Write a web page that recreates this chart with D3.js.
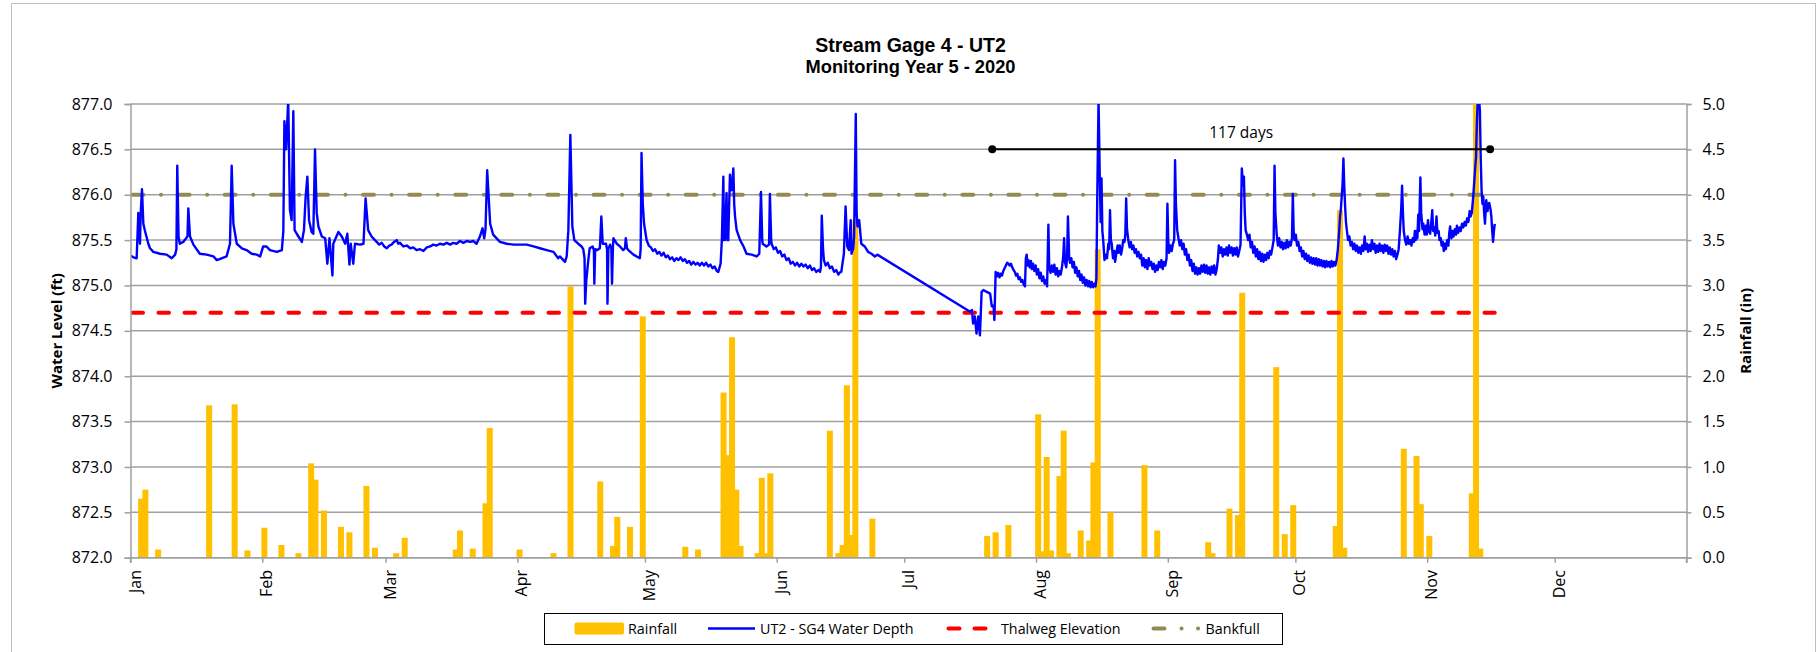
<!DOCTYPE html>
<html>
<head>
<meta charset="utf-8">
<script src="https://cdn.jsdelivr.net/npm/d3@7"></script>
<style>
  html, body { margin: 0; padding: 0; background: #ffffff; }
  svg { display: block; font-family: "Open Sans", "Liberation Sans", sans-serif; }
</style>
</head>
<body>
<svg id="chart" width="1818" height="652"></svg>
<script>
// ---- chart text ----
const titleText = "Stream Gage 4 - UT2";
const subtitleText = "Monitoring Year 5 - 2020";
const leftTitle = "Water Level (ft)";
const rightTitle = "Rainfall (in)";
const monthLabels = ["Jan","Feb","Mar","Apr","May","Jun","Jul","Aug","Sep","Oct","Nov","Dec"];
const levelTicks = [872.0, 872.5, 873.0, 873.5, 874.0, 874.5, 875.0, 875.5, 876.0, 876.5, 877.0];
const rainTicks = [0.0, 0.5, 1.0, 1.5, 2.0, 2.5, 3.0, 3.5, 4.0, 4.5, 5.0];
const legendLabels = ["Rainfall", "UT2 - SG4 Water Depth", "Thalweg Elevation", "Bankfull"];

// ---- reference elevations (ft) ----
const thalwegElevation = 874.7;
const bankfullElevation = 876.0;

// ---- consecutive-days-above-thalweg marker (days since Jan 1) ----
const spanStartDay = 202.7;
const spanEndDay = 319.8;
const spanLevel = 876.5;
const spanLabel = "117 days";

// ---- daily rainfall (in) ----
const rainDates = [
  "2020-01-03","2020-01-04","2020-01-07","2020-01-19","2020-01-25","2020-01-28",
  "2020-02-01","2020-02-05","2020-02-09","2020-02-12","2020-02-13","2020-02-15",
  "2020-02-19","2020-02-21","2020-02-25","2020-02-27","2020-03-03","2020-03-05",
  "2020-03-17","2020-03-18","2020-03-21","2020-03-24","2020-03-25","2020-04-01",
  "2020-04-09","2020-04-13","2020-04-20","2020-04-23","2020-04-24","2020-04-27",
  "2020-04-30","2020-05-10","2020-05-13","2020-05-19","2020-05-20","2020-05-21",
  "2020-05-22","2020-05-23","2020-05-27","2020-05-28","2020-05-29","2020-05-30",
  "2020-06-13","2020-06-15","2020-06-16","2020-06-17","2020-06-18","2020-06-19",
  "2020-06-23","2020-07-20","2020-07-22","2020-07-25","2020-08-01","2020-08-02",
  "2020-08-03","2020-08-04","2020-08-06","2020-08-07","2020-08-08","2020-08-11",
  "2020-08-13","2020-08-14","2020-08-15","2020-08-18","2020-08-26","2020-08-29",
  "2020-09-10","2020-09-11","2020-09-15","2020-09-17","2020-09-18","2020-09-26",
  "2020-09-28","2020-09-30","2020-10-10","2020-10-11","2020-10-12","2020-10-26",
  "2020-10-29","2020-10-30","2020-11-01","2020-11-11","2020-11-12","2020-11-13"
];
const rainInches = [
  0.65, 0.75, 0.09, 1.68, 1.69, 0.08,
  0.33, 0.14, 0.05, 1.04, 0.86, 0.52,
  0.34, 0.28, 0.79, 0.11, 0.05, 0.22,
  0.09, 0.30, 0.10, 0.60, 1.43, 0.09,
  0.05, 2.99, 0.84, 0.13, 0.45, 0.34,
  2.66, 0.12, 0.09, 1.82, 1.13, 2.43,
  0.75, 0.13, 0.05, 0.88, 0.05, 0.93,
  1.40, 0.05, 0.14, 1.90, 0.25, 3.72,
  0.43, 0.24, 0.28, 0.36, 1.58, 0.07,
  1.11, 0.08, 0.90, 1.40, 0.05, 0.30,
  0.19, 1.05, 3.40, 0.50, 1.02, 0.30,
  0.17, 0.05, 0.54, 0.47, 2.92, 2.10,
  0.26, 0.58, 0.35, 3.83, 0.11, 1.20,
  1.12, 0.59, 0.24, 0.71, 5.60, 0.10
];

// ---- gage water level, [days since Jan 1, elevation ft] ----
const levelJanToJul = [
  [0.04,875.33],[0.67,875.31],[1.45,875.30],[1.84,875.80],[2.23,875.46],[2.39,875.78],[2.70,876.06],[3.02,875.68],[3.41,875.60],[4.19,875.46],
  [4.59,875.41],[5.37,875.37],[6.94,875.35],[8.50,875.34],[9.70,875.30],[10.5,875.34],[10.8,875.40],[11.0,876.32],[11.3,875.54],[11.6,875.46],
  [12.4,875.48],[13.4,875.54],[13.6,875.85],[14.0,875.54],[14.8,875.45],[16.3,875.35],[17.9,875.34],[19.5,875.32],[20.3,875.28],[21.4,875.30],
  [22.6,875.32],[23.4,875.46],[23.8,876.32],[24.2,875.68],[25.0,875.46],[26.2,875.41],[27.3,875.39],[28.5,875.35],[29.7,875.34],[30.5,875.32],
  [31.2,875.43],[32.0,875.43],[32.8,875.39],[34.4,875.37],[35.6,875.39],[35.95,875.60],[36.2,876.81],[36.6,876.50],[37.1,877.05],[37.5,875.83],
  [37.9,875.72],[38.3,876.92],[38.6,875.61],[39.1,875.57],[40.3,875.48],[40.8,875.61],[41.2,875.98],[41.6,876.20],[42.0,875.72],[42.6,875.59],
  [43.0,875.57],[43.4,876.50],[43.8,875.80],[44.2,875.65],[45.0,875.54],[45.8,875.52],[46.3,875.24],[46.8,875.52],[47.5,875.11],[47.7,875.46],
  [48.9,875.59],[49.7,875.54],[50.5,875.46],[51.0,875.57],[51.5,875.23],[51.8,875.46],[52.4,875.24],[52.8,875.46],[54.0,875.45],[54.8,875.46],
  [55.3,875.96],[55.9,875.61],[56.7,875.54],[57.9,875.48],[58.5,875.45],[59.1,875.47],[59.7,875.43],[60.3,875.41],[60.9,875.44],[61.4,875.45],
  [62.0,875.48],[62.6,875.50],[63.0,875.46],[63.4,875.47],[64.2,875.43],[65.0,875.44],[65.8,875.41],[66.5,875.42],[67.3,875.39],[68.1,875.40],
  [68.9,875.38],[69.7,875.42],[70.5,875.43],[71.2,875.45],[72.0,875.44],[72.8,875.46],[73.6,875.45],[74.4,875.47],[75.2,875.45],[75.9,875.47],
  [76.7,875.46],[77.5,875.49],[78.3,875.47],[79.1,875.49],[79.9,875.48],[80.6,875.49],[81.4,875.46],[82.2,875.54],[82.8,875.63],[83.2,875.52],
  [83.5,875.62],[83.9,876.27],[84.6,875.68],[85.3,875.56],[86.9,875.48],[88.5,875.46],[90.1,875.45],[91.6,875.45],[93.2,875.45],[94.8,875.43],
  [96.3,875.41],[97.9,875.39],[99.5,875.37],[100.6,875.30],[101.0,875.32],[102.2,875.26],[102.6,875.32],[102.99,875.61],[103.46,876.66],[103.93,875.65],
  [104.4,875.50],[105.3,875.46],[106.1,875.43],[106.5,875.40],[106.8,875.30],[106.95,874.80],[107.2,875.05],[107.6,875.24],[108.0,875.41],[108.7,875.43],
  [109.0,875.39],[109.1,875.02],[109.3,875.40],[109.8,875.39],[110.4,875.41],[110.75,875.76],[111.07,875.46],[111.85,875.46],[112.1,875.40],[112.2,874.80],
  [112.4,875.40],[112.8,875.45],[113.1,875.41],[113.26,875.02],[113.5,875.45],[113.6,875.52],[114.4,875.46],[115.13,875.43],[115.9,875.39],[116.3,875.41],
  [116.5,875.52],[116.8,875.41],[117.1,875.39],[118.3,875.34],[119.8,875.30],[120.0,875.40],[120.2,876.46],[120.5,875.90],[120.8,875.68],[121.4,875.50],
  [121.9,875.44],[122.4,875.42],[122.9,875.38],[123.4,875.40],[123.9,875.35],[124.4,875.37],[124.9,875.33],[125.4,875.36],[125.9,875.31],[126.4,875.33],
  [126.9,875.29],[127.4,875.31],[127.9,875.27],[128.4,875.30],[128.9,875.28],[129.4,875.31],[129.9,875.27],[130.4,875.29],[130.9,875.25],[131.4,875.27],
  [131.9,875.23],[132.4,875.26],[132.9,875.23],[133.4,875.25],[133.9,875.22],[134.4,875.25],[134.9,875.22],[135.4,875.25],[135.9,875.21],[136.4,875.23],
  [136.9,875.19],[137.4,875.21],[137.9,875.16],[138.27,875.15],[138.8,875.24],[139.1,875.50],[139.45,876.20],[139.6,875.50],[139.8,875.50],[140.2,876.02],
  [140.4,875.50],[140.6,875.50],[141.0,876.22],[141.2,876.05],[141.4,876.05],[141.8,876.29],[142.0,875.90],[142.2,875.76],[142.58,875.61],[143.4,875.50],
  [144.2,875.43],[144.9,875.35],[146.1,875.34],[147.3,875.32],[147.9,875.35],[148.3,876.03],[148.6,875.50],[148.7,875.46],[149.6,875.43],[150.2,875.45],
  [150.4,876.01],[150.7,875.50],[150.8,875.46],[151.3,875.40],[151.8,875.42],[152.3,875.36],[152.8,875.38],[153.3,875.32],[153.8,875.34],[154.3,875.28],
  [154.8,875.30],[155.3,875.24],[155.8,875.26],[156.3,875.22],[156.8,875.25],[157.3,875.21],[157.8,875.24],[158.3,875.21],[158.8,875.23],[159.3,875.19],
  [159.8,875.22],[160.3,875.17],[160.8,875.19],[161.3,875.15],[161.8,875.17],[162.2,875.15],[162.4,875.20],[162.6,875.77],[162.9,875.40],[163.1,875.28],
  [163.5,875.22],[164.0,875.25],[164.5,875.19],[165.0,875.21],[165.5,875.15],[166.0,875.17],[166.5,875.12],[167.0,875.15],[167.2,875.15],[167.8,875.35],
  [168.2,875.87],[168.6,875.43],[169.0,875.39],[169.4,875.72],[169.6,875.35],[170.0,875.41],[170.2,875.54],[170.6,876.89],[170.8,875.80],[171.0,875.65],
  [171.4,875.72],[171.9,875.46],[172.7,875.43],[173.5,875.37],[174.3,875.35],[175.1,875.32],[175.67,875.34],[197.5,874.71],[197.9,874.73],[198.2,874.58],
  [198.6,874.66],[199.0,874.47],[199.4,874.66],[199.8,874.45],[200.2,874.93],[200.6,874.95],[201.4,874.93],[202.2,874.91],[202.6,874.77],[203.0,874.78],
  [203.2,874.62]
];
const levelJulToNov = [
  [203.5,875.15],[203.8,875.10],[204.1,875.14],[204.4,875.09],[204.7,875.13],[205.0,875.11],[205.3,875.16],[205.6,875.19],[205.9,875.22],[206.2,875.25],
  [206.5,875.24],[206.8,875.22],[207.1,875.24],[207.4,875.20],[207.7,875.17],[208.0,875.15],[208.3,875.11],[208.6,875.13],[208.9,875.07],[209.2,875.09],
  [209.5,875.04],[209.8,875.06],[210.1,875.01],[210.4,874.99],[210.6,875.30],[210.8,875.34],[211.0,875.22],[211.2,875.28],[211.5,875.20],[211.8,875.27],
  [212.0,875.18],[212.3,875.24],[212.6,875.16],[212.9,875.22],[213.2,875.12],[213.5,875.18],[213.8,875.08],[214.1,875.14],[214.4,875.05],[214.7,875.10],
  [215.0,875.02],[215.3,875.06],[215.6,874.99],[215.9,875.67],[216.1,875.20],[216.4,875.14],[216.7,875.22],[217.0,875.15],[217.3,875.23],[217.6,875.12],
  [217.9,875.19],[218.2,875.10],[218.5,875.16],[218.8,875.12],[219.1,875.20],[219.4,875.32],[219.6,875.52],[219.8,875.26],[220.1,875.20],[220.3,875.30],
  [220.5,875.76],[220.8,875.30],[221.0,875.25],[221.3,875.30],[221.6,875.20],[221.9,875.26],[222.2,875.14],[222.5,875.20],[222.8,875.10],[223.1,875.16],
  [223.4,875.06],[223.7,875.12],[224.0,875.03],[224.3,875.09],[224.6,875.00],[224.9,875.06],[225.2,874.99],[225.5,875.05],[225.8,874.98],[226.1,875.04],
  [226.4,874.98],[226.7,875.02],[227.0,874.99],[227.2,875.08],[227.4,875.98],[227.7,877.05],[228.0,876.18],[228.2,875.70],[228.4,876.18],[228.6,875.60],
  [228.8,875.50],[229.1,875.28],[229.4,875.34],[229.7,875.30],[230.0,875.46],[230.2,875.40],[230.4,875.83],[230.6,875.50],[230.8,875.46],[231.1,875.30],
  [231.4,875.38],[231.6,875.26],[231.9,875.36],[232.2,875.44],[232.4,875.36],[232.7,875.44],[233.0,875.34],[233.3,875.42],[233.5,875.50],[233.8,875.48],
  [234.0,875.56],[234.2,875.96],[234.4,875.62],[234.7,875.50],[235.0,875.42],[235.3,875.48],[235.6,875.40],[235.9,875.44],[236.2,875.36],[236.5,875.40],
  [236.8,875.32],[237.1,875.37],[237.4,875.30],[237.7,875.34],[238.0,875.22],[238.3,875.30],[238.6,875.20],[238.9,875.28],[239.2,875.18],[239.5,875.30],
  [239.8,875.22],[240.1,875.26],[240.4,875.18],[240.7,875.24],[241.0,875.15],[241.3,875.22],[241.6,875.17],[241.9,875.26],[242.2,875.20],[242.5,875.28],
  [242.8,875.18],[243.1,875.26],[243.4,875.22],[243.7,875.30],[243.9,875.90],[244.1,875.50],[244.3,875.36],[244.6,875.44],[244.9,875.38],[245.2,875.46],
  [245.5,875.50],[245.7,876.38],[245.9,875.90],[246.2,875.61],[246.5,875.52],[246.8,875.44],[247.1,875.50],[247.4,875.40],[247.7,875.46],[248.0,875.34],
  [248.3,875.40],[248.6,875.28],[248.9,875.34],[249.2,875.22],[249.5,875.28],[249.8,875.16],[250.1,875.24],[250.4,875.13],[250.7,875.20],[251.0,875.12],
  [251.3,875.19],[251.6,875.13],[251.9,875.22],[252.2,875.15],[252.5,875.23],[252.8,875.14],[253.1,875.22],[253.4,875.13],[253.7,875.20],[254.0,875.12],
  [254.3,875.21],[254.6,875.14],[254.9,875.22],[255.2,875.12],[255.5,875.18],[255.8,875.30],[256.0,875.44],[256.3,875.36],[256.6,875.42],[256.9,875.32],
  [257.2,875.40],[257.5,875.34],[257.8,875.42],[258.1,875.33],[258.4,875.44],[258.7,875.36],[259.0,875.42],[259.3,875.33],[259.6,875.41],[259.9,875.34],
  [260.2,875.42],[260.5,875.32],[260.8,875.38],[261.1,875.45],[261.4,876.29],[261.7,876.10],[261.9,876.20],[262.1,875.80],[262.3,875.61],[262.6,875.56],
  [262.9,875.50],[263.2,875.56],[263.5,875.42],[263.8,875.48],[264.1,875.36],[264.4,875.43],[264.7,875.32],[265.0,875.40],[265.3,875.29],[265.6,875.37],
  [265.9,875.27],[266.2,875.35],[266.5,875.26],[266.8,875.34],[267.1,875.28],[267.4,875.36],[267.7,875.30],[268.0,875.38],[268.3,875.34],[268.6,875.42],
  [268.9,875.50],[269.1,876.32],[269.3,875.80],[269.6,875.57],[269.9,875.44],[270.2,875.52],[270.5,875.42],[270.8,875.48],[271.1,875.40],[271.4,875.47],
  [271.7,875.41],[272.0,875.50],[272.3,875.42],[272.6,875.48],[272.9,875.44],[273.2,875.52],[273.4,876.01],[273.6,875.60],[273.8,875.50],[274.1,875.56],
  [274.4,875.44],[274.7,875.48],[275.0,875.38],[275.3,875.42],[275.6,875.32],[275.9,875.38],[276.2,875.29],[276.5,875.35],[276.8,875.27],[277.1,875.33],
  [277.4,875.25],[277.7,875.31],[278.0,875.24],[278.3,875.30],[278.6,875.23],[278.9,875.30],[279.2,875.22],[279.5,875.29],[279.8,875.22],[280.1,875.28],
  [280.4,875.21],[280.7,875.27],[281.0,875.20],[281.3,875.27],[281.6,875.21],[281.9,875.26],[282.2,875.20],[282.5,875.27],[282.8,875.21],[283.1,875.26],
  [283.4,875.22],[283.7,875.28],[284.0,875.40],[284.3,875.60],[284.5,875.76],[284.7,875.84],[284.9,875.98],[285.1,876.12],[285.3,876.40],[285.5,876.10],
  [285.7,875.87],[285.9,875.70],[286.1,875.61],[286.4,875.50],[286.7,875.54],[287.0,875.44],[287.3,875.48],[287.6,875.40],[287.9,875.46],[288.2,875.38],
  [288.5,875.44],[288.8,875.36],[289.1,875.42],[289.4,875.35],[289.7,875.44],[290.0,875.38],[290.3,875.54],[290.5,875.40],[290.8,875.46],[291.1,875.37],
  [291.4,875.45],[291.7,875.38],[292.0,875.50],[292.3,875.40],[292.6,875.46],[292.9,875.36],[293.2,875.44],[293.5,875.37],[293.8,875.46],[294.1,875.38],
  [294.4,875.44],[294.7,875.36],[295.0,875.45],[295.3,875.38],[295.6,875.44],[295.9,875.35],[296.2,875.42],[296.5,875.34],[296.8,875.40],[297.1,875.32],
  [297.4,875.38],[297.7,875.29],[298.0,875.34],[298.3,875.40],[298.6,875.61],[298.9,875.85],[299.1,876.10],[299.3,875.80],[299.5,875.60],[299.8,875.50],
  [300.1,875.45],[300.4,875.54],[300.7,875.46],[301.0,875.50],[301.3,875.44],[301.6,875.52],[301.9,875.48],[302.1,875.60],[302.3,875.50],[302.5,875.60],
  [302.7,875.52],[302.9,875.78],[303.1,875.60],[303.4,876.19],[303.6,875.80],[303.9,875.62],[304.1,875.68],[304.4,875.56],[304.7,875.66],[304.9,875.56],
  [305.2,875.72],[305.4,875.60],[305.7,875.57],[305.9,875.66],[306.2,875.83],[306.4,875.60],[306.7,875.64],[306.9,875.55],[307.2,875.76],[307.4,875.58],
  [307.7,875.60],[307.9,875.50],[308.2,875.52],[308.4,875.44],[308.7,875.48],[308.9,875.38],[309.2,875.46],[309.4,875.40],[309.7,875.50],[310.0,875.44],
  [310.2,875.58],[310.4,875.65],[310.7,875.52],[311.0,875.60],[311.2,875.54],[311.5,875.62],[311.8,875.56],[312.0,875.66],[312.3,875.58],[312.6,875.64],
  [312.9,875.60],[313.2,875.68],[313.5,875.64],[313.8,875.70],[314.1,875.66],[314.4,875.74],[314.7,875.70],[315.0,875.82],[315.2,875.76],[315.5,875.80],
  [315.8,875.96],[316.0,876.09],[316.3,876.30],[316.5,876.42],[316.7,876.80],[316.9,877.05],[317.2,877.05],[317.4,876.93],[317.6,876.40],[317.8,876.05],
  [318.0,875.90],[318.2,875.98],[318.4,875.80],[318.6,875.68],[318.8,875.86],[318.9,875.94],[319.2,875.82],[319.4,875.90],[319.6,875.91],[319.9,875.84],
  [320.1,875.76],[320.3,875.60],[320.5,875.48],[320.7,875.60],[320.9,875.68]
];

// ---- colours ----
const rainColor = "#FFC000";
const levelColor = "#0000FF";
const thalwegColor = "#FF0000";
const bankfullColor = "#948A54";
const gridColor = "#A0A0A0";

// ---- layout ----
const W = 1818, H = 652;
const plot = { left: 130.5, right: 1686.5, top: 104, bottom: 557.7 };

const svg = d3.select("#chart");
const DAY = 864e5;
const yearStart = Date.UTC(2020, 0, 1);
const fromDay = d => new Date(yearStart + d * DAY);
const parseDate = d3.utcParse("%Y-%m-%d");

const x = d3.scaleUtc()
  .domain([new Date(Date.UTC(2020, 0, 1)), new Date(Date.UTC(2021, 0, 1))])
  .range([plot.left, plot.right]);
const yLevel = d3.scaleLinear().domain([872, 877]).range([plot.bottom, plot.top]);
const yRain = d3.scaleLinear().domain([0, 5]).range([plot.bottom, plot.top]);

// outer chart frame
svg.append("rect")
  .attr("x", 11.5).attr("y", 3.5)
  .attr("width", 1804).attr("height", 700)
  .attr("fill", "none").attr("stroke", "#BFBFBF").attr("stroke-width", 1);

// titles
const titleFont = "'Liberation Sans', Arial, sans-serif";
svg.append("text").attr("x", 910.5).attr("y", 51.5)
  .attr("text-anchor", "middle").attr("font-weight", "bold").attr("font-size", 19.5)
  .attr("font-family", titleFont)
  .text(titleText);
svg.append("text").attr("x", 910.5).attr("y", 73)
  .attr("text-anchor", "middle").attr("font-weight", "bold").attr("font-size", 18.3)
  .attr("font-family", titleFont)
  .text(subtitleText);

// horizontal gridlines
svg.append("g").selectAll("line").data(levelTicks).join("line")
  .attr("x1", plot.left).attr("x2", plot.right)
  .attr("y1", d => yLevel(d)).attr("y2", d => yLevel(d))
  .attr("stroke", gridColor).attr("stroke-width", 1.5);

// clipping region for the plotted series
svg.append("clipPath").attr("id", "plotClip")
  .append("rect")
  .attr("x", plot.left).attr("y", plot.top)
  .attr("width", plot.right - plot.left).attr("height", plot.bottom - plot.top);

const series = svg.append("g").attr("clip-path", "url(#plotClip)");

// rainfall columns
const rain = rainDates.map((d, i) => ({ date: parseDate(d), value: rainInches[i] }));
const barW = 6;
series.append("g").selectAll("rect").data(rain).join("rect")
  .attr("x", d => x(new Date(d.date.getTime() + DAY / 2)) - barW / 2)
  .attr("width", barW)
  .attr("y", d => yRain(d.value))
  .attr("height", d => yRain(0) - yRain(d.value))
  .attr("fill", rainColor);

// axes
const axisL = d3.axisLeft(yLevel).tickValues(levelTicks).tickFormat(d3.format(".1f")).tickSize(6).tickPadding(12);
const axisR = d3.axisRight(yRain).tickValues(rainTicks).tickFormat(d3.format(".1f")).tickSize(5).tickPadding(11);
const axisB = d3.axisBottom(x).ticks(d3.utcMonth.every(1)).tickSize(5).tickFormat("");

function styleAxis(g) {
  g.select(".domain").attr("stroke", gridColor).attr("stroke-width", 1.5);
  g.selectAll(".tick line").attr("stroke", gridColor).attr("stroke-width", 1.5);
  g.selectAll(".tick text").attr("fill", "#000").attr("font-size", 16)
    .attr("font-family", "'Open Sans', sans-serif");
}
svg.append("g").attr("transform", `translate(${plot.left},0)`).call(axisL).call(styleAxis);
svg.append("g").attr("transform", `translate(${plot.right},0)`).call(axisR).call(styleAxis);
const gB = svg.append("g").attr("transform", `translate(0,${plot.bottom})`).call(axisB).call(styleAxis);
gB.select(".domain").attr("d", `M${plot.left},5V0H${plot.right}V5`);

// month labels, rotated
const monthStarts = d3.utcMonths(new Date(Date.UTC(2020, 0, 1)), new Date(Date.UTC(2021, 0, 1)));
svg.append("g").selectAll("text").data(monthStarts).join("text")
  .attr("transform", d => `translate(${x(d) + 4},570) rotate(-90)`)
  .attr("text-anchor", "end")
  .attr("dominant-baseline", "central")
  .attr("font-size", 16)
  .text(d => monthLabels[d.getUTCMonth()]);

// axis titles
svg.append("text")
  .attr("transform", `translate(56,${(plot.top + plot.bottom) / 2}) rotate(-90)`)
  .attr("text-anchor", "middle").attr("dominant-baseline", "central")
  .attr("font-weight", "bold").attr("font-size", 15)
  .text(leftTitle);
svg.append("text")
  .attr("transform", `translate(1745,${(plot.top + plot.bottom) / 2}) rotate(-90)`)
  .attr("text-anchor", "middle").attr("dominant-baseline", "central")
  .attr("font-weight", "bold").attr("font-size", 15)
  .text(rightTitle);

// thalweg and bankfull reference lines
const level = levelJanToJul.concat(levelJulToNov).map(([d, v]) => ({ t: fromDay(d), v }));
const lineEnd = level[level.length - 1].t;
series.append("line")
  .attr("x1", x(fromDay(0))).attr("x2", x(lineEnd))
  .attr("y1", yLevel(thalwegElevation)).attr("y2", yLevel(thalwegElevation))
  .attr("stroke", thalwegColor).attr("stroke-width", 4)
  .attr("stroke-linecap", "round").attr("stroke-dasharray", "10.5,15.5")
  .attr("stroke-dashoffset", -2);
series.append("line")
  .attr("x1", x(fromDay(0))).attr("x2", x(lineEnd))
  .attr("y1", yLevel(bankfullElevation)).attr("y2", yLevel(bankfullElevation))
  .attr("stroke", bankfullColor).attr("stroke-width", 4)
  .attr("stroke-linecap", "round").attr("stroke-dasharray", "11,17.5,0.1,17.5")
  .attr("stroke-dashoffset", -2);

// water level trace
series.append("path").datum(level)
  .attr("fill", "none").attr("stroke", levelColor).attr("stroke-width", 2.4)
  .attr("stroke-linejoin", "round")
  .attr("d", d3.line().x(d => x(d.t)).y(d => yLevel(d.v)));

// duration marker
const spanY = yLevel(spanLevel);
svg.append("line")
  .attr("x1", x(fromDay(spanStartDay))).attr("x2", x(fromDay(spanEndDay)))
  .attr("y1", spanY).attr("y2", spanY)
  .attr("stroke", "#000").attr("stroke-width", 2);
svg.append("g").selectAll("circle").data([spanStartDay, spanEndDay]).join("circle")
  .attr("cx", d => x(fromDay(d))).attr("cy", spanY).attr("r", 4).attr("fill", "#000");
svg.append("text")
  .attr("x", x(fromDay((spanStartDay + spanEndDay) / 2))).attr("y", spanY - 11)
  .attr("text-anchor", "middle").attr("font-size", 15.5)
  .text(spanLabel);

// legend
const lg = svg.append("g");
lg.append("rect").attr("x", 544.5).attr("y", 613.5).attr("width", 738).attr("height", 31)
  .attr("fill", "#fff").attr("stroke", "#000").attr("stroke-width", 1);
const legY = 628.5;
lg.append("rect").attr("x", 574.5).attr("y", legY - 6).attr("width", 49.5).attr("height", 12)
  .attr("rx", 2).attr("fill", rainColor);
lg.append("line").attr("x1", 708).attr("x2", 755).attr("y1", legY).attr("y2", legY)
  .attr("stroke", levelColor).attr("stroke-width", 2.5);
lg.append("line").attr("x1", 948.5).attr("x2", 986).attr("y1", legY).attr("y2", legY)
  .attr("stroke", thalwegColor).attr("stroke-width", 4).attr("stroke-linecap", "round")
  .attr("stroke-dasharray", "11,15");
lg.append("line").attr("x1", 1153.5).attr("x2", 1200).attr("y1", legY).attr("y2", legY)
  .attr("stroke", bankfullColor).attr("stroke-width", 4).attr("stroke-linecap", "round")
  .attr("stroke-dasharray", "11,17,0.1,16.4,0.1,40");
const legTextX = [628, 760, 1001, 1205.5];
lg.selectAll("text.leg").data(legendLabels).join("text").attr("class", "leg")
  .attr("x", (d, i) => legTextX[i]).attr("y", 634.3)
  .attr("font-size", 14.3)
  .text(d => d);
</script>
</body>
</html>
